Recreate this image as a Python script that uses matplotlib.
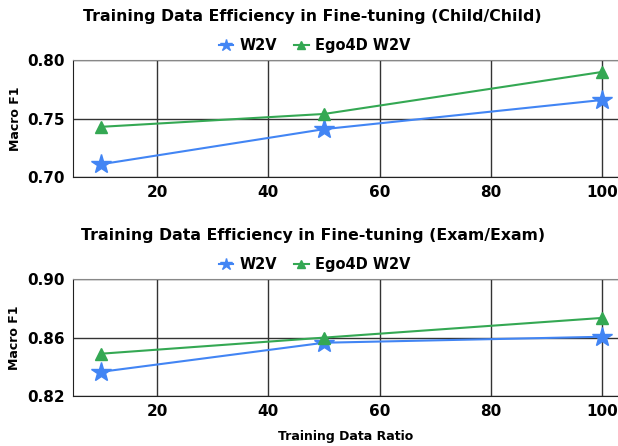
import matplotlib
matplotlib.use("Agg")
import matplotlib.pyplot as plt

ratios = [10, 50, 100]

child_w2v = [0.711, 0.741, 0.766]
child_ego = [0.743, 0.754, 0.790]

exam_w2v = [0.8366, 0.8565, 0.8606]
exam_ego = [0.849, 0.860, 0.8735]

titles = ["Training Data Efficiency in Fine-tuning (Child/Child)",
          "Training Data Efficiency in Fine-tuning (Exam/Exam)"]
yticks = [[0.70, 0.75, 0.80], [0.82, 0.86, 0.90]]
ylims = [(0.70, 0.80), (0.82, 0.90)]

blue = "#4285F4"
green = "#34A853"

plt.rcParams['font.family'] = ['DejaVu Sans']
plt.rcParams['font.weight'] = 'bold'

fig = plt.figure(figsize=(6.18, 4.46), dpi=100)
ax1 = fig.add_axes([0.118, 0.603, 0.882, 0.262])
ax2 = fig.add_axes([0.118, 0.112, 0.882, 0.262])

series = [(child_w2v, child_ego), (exam_w2v, exam_ego)]
for i, ax in enumerate([ax1, ax2]):
    w2v, ego = series[i]
    ax.plot(ratios, w2v, color=blue, lw=1.5, marker='*', ms=15, label='W2V', zorder=3)
    ax.plot(ratios, ego, color=green, lw=1.5, marker='^', ms=9, label='Ego4D W2V', zorder=3)
    ax.set_xlim(4.9, 102.8)
    ax.set_ylim(*ylims[i])
    ax.set_xticks([20, 40, 60, 80, 100])
    ax.set_yticks(yticks[i])
    ax.set_yticklabels(["%.2f" % v for v in yticks[i]])
    ax.tick_params(length=0, labelsize=11, pad=6)
    for lab in ax.get_xticklabels() + ax.get_yticklabels():
        lab.set_fontweight('bold')
    ax.grid(True, color='#333333', lw=1)
    ax.spines['right'].set_visible(False)
    ax.spines['top'].set_color('#888888')
    ax.spines['left'].set_color('#222222')
    ax.spines['bottom'].set_color('#222222')
    ax.set_ylabel('Macro F1', fontsize=9, fontweight='bold', labelpad=4)
    ax.set_title(titles[i], fontsize=11.3, fontweight='bold', pad=28, x=0.44)
    ax.legend(loc='lower center', bbox_to_anchor=(0.443, 0.985), ncol=2, frameon=False,
              fontsize=10.5, markerscale=0.6, handlelength=1, handletextpad=0.4,
              columnspacing=1.2, borderaxespad=0.2)

ax2.set_xlabel('Training Data Ratio', fontsize=9, fontweight='bold', labelpad=8)

fig.savefig('out.png', dpi=100)
